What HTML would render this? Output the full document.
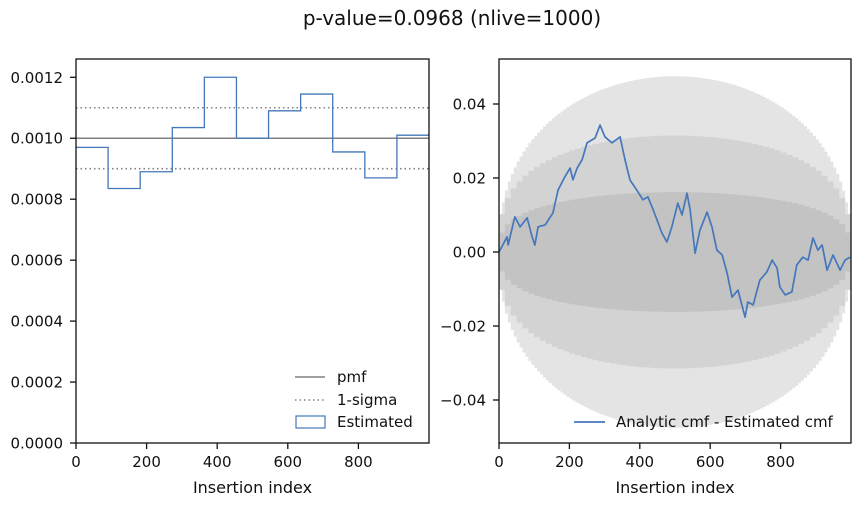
<!DOCTYPE html>
<html><head><meta charset="utf-8"><style>
body{margin:0;background:#fff;}
svg{display:block;font-family:"DejaVu Sans","Liberation Sans",sans-serif;}
</style></head><body>
<svg id="c" width="861" height="506"></svg>
<script>
const binValues=[0.00097,0.000835,0.00089,0.001035,0.0012,0.0010,0.00109,0.001145,0.000955,0.00087,0.00101];
const pmfValue=0.001;
const sigmaLevels=[0.0011,0.0009];
const leftYTicks=[0,0.0002,0.0004,0.0006,0.0008,0.001,0.0012];
const leftYLabels=["0.0000","0.0002","0.0004","0.0006","0.0008","0.0010","0.0012"];
const xTicks=[0,200,400,600,800];
const rightYTicks=[-0.04,-0.02,0,0.02,0.04];
const rightYLabels=["−0.04","−0.02","0.00","0.02","0.04"];
const walkX=[0,3,23,26,45,60,80,94,102,111,131,153,168,187,202,210,222,236,250,273,287,301,321,344,358,372,395,409,423,438,463,477,491,508,520,534,543,557,571,591,605,619,634,648,662,679,699,707,722,741,761,776,790,798,813,832,846,863,878,892,906,918,932,949,969,983,997];
const walkY=[0,0.0005,0.0041,0.0019,0.0095,0.0068,0.0092,0.0041,0.0019,0.0068,0.0073,0.0105,0.0168,0.0203,0.0227,0.0195,0.0227,0.0249,0.0295,0.0308,0.0343,0.0311,0.0295,0.0311,0.0249,0.0195,0.0162,0.0141,0.0149,0.0114,0.0051,0.0027,0.0068,0.0132,0.0100,0.0159,0.0114,-0.0003,0.0059,0.0108,0.0068,0.0005,-0.0008,-0.0057,-0.0122,-0.0103,-0.0176,-0.0135,-0.0143,-0.0076,-0.0054,-0.0022,-0.0043,-0.0095,-0.0116,-0.0108,-0.0035,-0.0014,-0.0022,0.0038,0.0005,0.0019,-0.0049,-0.0008,-0.0049,-0.0022,-0.0014];
const bandSigma=[0.0475,0.0315,0.0162];
const bandColors=["#e4e4e4","#d3d3d3","#c3c3c3"];

const svg=document.getElementById('c');
const NS='http://www.w3.org/2000/svg';
function mk(t,a,p){const e=document.createElementNS(NS,t);for(const k in a)e.setAttribute(k,a[k]);(p||svg).appendChild(e);return e;}
const FS=15;
const L={x0:76,x1:429,y0:443,y1:59};
const lx=v=>L.x0+v/1000*(L.x1-L.x0);
const ly=v=>L.y0-v/0.00126*(L.y0-L.y1);
const R={x0:499,x1:851,y0:443,y1:59};
const rx=v=>R.x0+v/1000*(R.x1-R.x0);
const ry=v=>252-v*3700;

const t=mk('text',{x:452,y:25,'text-anchor':'middle','font-size':20,fill:'#111'});
t.textContent='p-value=0.0968 (nlive=1000)';



const gl=mk('g',{});


const pm=mk('line',{x1:L.x0,x2:L.x1,y1:ly(pmfValue),y2:ly(pmfValue),stroke:'#808080','stroke-width':1.6},gl);


sigmaLevels.forEach(s=>{
  const l=mk('line',{x1:L.x0,x2:L.x1,y1:ly(s),y2:ly(s),stroke:'#808080','stroke-width':1.6,'stroke-dasharray':'1.5,3'},gl);
  
  
});
const bw=1000/binValues.length;
let d='';
binValues.forEach((v,i)=>{const xa=lx(i*bw),xb=lx((i+1)*bw);d+=(i?'L':'M')+xa+','+ly(v)+'L'+xb+','+ly(v);});
const hist=mk('path',{d:d,fill:'none',stroke:'#4477bb','stroke-width':1.3},gl);


mk('rect',{x:L.x0,y:L.y1,width:L.x1-L.x0,height:L.y0-L.y1,fill:'none',stroke:'#111','stroke-width':1.3},gl);
leftYTicks.forEach((v,i)=>{
  mk('line',{x1:L.x0-6,x2:L.x0,y1:ly(v),y2:ly(v),stroke:'#111','stroke-width':1.3},gl);
  const tx=mk('text',{x:L.x0-13,y:ly(v)+5.5,'text-anchor':'end','font-size':FS,fill:'#111'},gl);
  tx.textContent=leftYLabels[i];
  
  
});
function xt(f,ax,g){xTicks.forEach(v=>{
  mk('line',{x1:f(v),x2:f(v),y1:ax.y0,y2:ax.y0+6,stroke:'#111','stroke-width':1.3},g);
  const tx=mk('text',{x:f(v),y:ax.y0+24,'text-anchor':'middle','font-size':FS,fill:'#111'},g);
  tx.textContent=v;
  
  
});
const xl=mk('text',{x:(ax.x0+ax.x1)/2,y:493,'text-anchor':'middle','font-size':16,fill:'#111'},g);
xl.textContent='Insertion index';

}
xt(lx,L,gl);
const lg=mk('g',{},gl);


mk('line',{x1:295,x2:325,y1:377,y2:377,stroke:'#808080','stroke-width':1.6},lg);
mk('line',{x1:295,x2:325,y1:400,y2:400,stroke:'#808080','stroke-width':1.6,'stroke-dasharray':'1.5,3'},lg);
mk('rect',{x:296,y:416,width:29,height:12,fill:'none',stroke:'#4477bb','stroke-width':1.2},lg);
[['pmf',382],['1-sigma',405],['Estimated',427]].forEach(([s,y])=>{const e=mk('text',{x:337,y:y,'font-size':FS,fill:'#111'},lg);e.textContent=s;});

const gr=mk('g',{});


bandSigma.forEach((s,k)=>{
  const n=k==0?120:60;let top=[],bot=[];
  for(let i=0;i<n;i++){const p=(i+0.5)/n;const h=s*Math.pow(4*p*(1-p),k==0?0.42:0.33);
    top.push([rx(i*1000/n),ry(h)],[rx((i+1)*1000/n),ry(h)]);bot.push([rx(i*1000/n),ry(-h)],[rx((i+1)*1000/n),ry(-h)]);}
  const pts=[[rx(0),ry(0)]].concat(top,[[rx(1000),ry(0)]],bot.reverse()).map(q=>q.join(',')).join(' ');
  const b=mk('polygon',{points:pts,fill:bandColors[k],stroke:'none'},gr);
  
  
});
const wl=mk('polyline',{points:walkX.map((x,i)=>rx(x)+','+ry(walkY[i])).join(' '),fill:'none',stroke:'#4477bb','stroke-width':1.7,'stroke-linejoin':'round'},gr);


mk('rect',{x:R.x0,y:R.y1,width:R.x1-R.x0,height:R.y0-R.y1,fill:'none',stroke:'#111','stroke-width':1.3},gr);
rightYTicks.forEach((v,i)=>{
  mk('line',{x1:R.x0-6,x2:R.x0,y1:ry(v),y2:ry(v),stroke:'#111','stroke-width':1.3},gr);
  const tx=mk('text',{x:R.x0-13,y:ry(v)+5.5,'text-anchor':'end','font-size':FS,fill:'#111'},gr);
  tx.textContent=rightYLabels[i];
  
  
});
xt(rx,R,gr);
const rl=mk('g',{},gr);


mk('line',{x1:574,x2:605,y1:422,y2:422,stroke:'#4477bb','stroke-width':1.8},rl);
const re=mk('text',{x:616,y:427,'font-size':FS,fill:'#111'},rl);
re.textContent='Analytic cmf - Estimated cmf';


</script>
</body></html>
